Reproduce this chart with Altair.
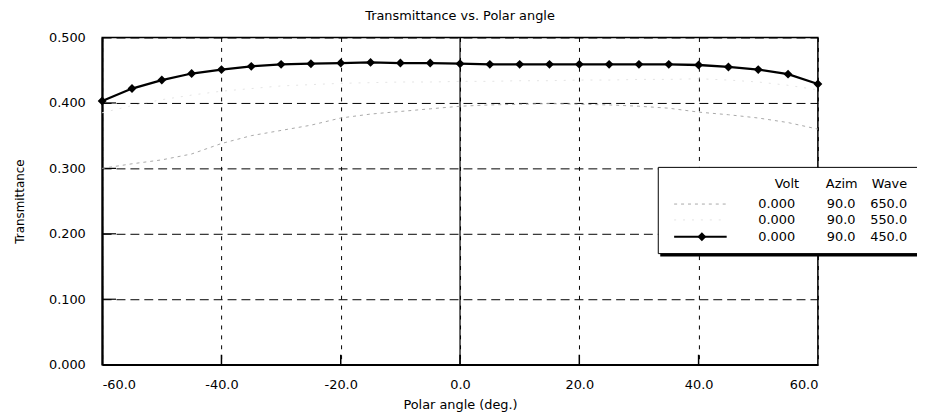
import altair as alt
import pandas as pd

# ---- data ----
angles = [-60, -55, -50, -45, -40, -35, -30, -25, -20, -15, -10, -5, 0,
          5, 10, 15, 20, 25, 30, 35, 40, 45, 50, 55, 60]
t450 = [0.403, 0.422, 0.435, 0.445, 0.451, 0.456, 0.459, 0.460, 0.461, 0.462,
        0.461, 0.461, 0.460, 0.459, 0.459, 0.459, 0.459, 0.459, 0.459, 0.459,
        0.458, 0.455, 0.451, 0.444, 0.429]
t650 = [0.300, 0.307, 0.313, 0.322, 0.338, 0.350, 0.358, 0.366, 0.377, 0.383,
        0.387, 0.391, 0.395, 0.397, 0.398, 0.399, 0.398, 0.397, 0.395, 0.392,
        0.386, 0.382, 0.377, 0.370, 0.360]
t550 = [0.385, 0.396, 0.405, 0.412, 0.418, 0.422, 0.426, 0.428, 0.430, 0.431,
        0.432, 0.432, 0.433, 0.433, 0.434, 0.434, 0.435, 0.435, 0.436, 0.436,
        0.437, 0.435, 0.432, 0.427, 0.420]
x_ticks = [-60, -40, -20, 0, 20, 40, 60]
y_ticks = [0.0, 0.1, 0.2, 0.3, 0.4, 0.5]
legend_header = ["Volt", "Azim", "Wave"]
legend_volt = ["0.000", "0.000", "0.000"]
legend_azim = ["90.0", "90.0", "90.0"]
legend_wave = ["650.0", "550.0", "450.0"]
zero_line = [0.0]

FONT = "DejaVu Sans"
W, H = 722, 330

df = pd.DataFrame({"angle": angles, "t450": t450, "t650": t650, "t550": t550})
one = pd.DataFrame({"d": [0]})

xs = alt.Scale(domain=[-60, 60], nice=False, zero=False)
ys = alt.Scale(domain=[0, 0.5], nice=False)

xaxis = alt.Axis(values=x_ticks, format=".1f", title="Polar angle (deg.)",
                 labelExpr="replace(datum.label, '\u2212', '-')",
                 gridDash=[4, 6], labelPadding=14, titleFontSize=13,
                 titleX=361, titleY=40, titleBaseline="middle")
yaxis = alt.Axis(values=y_ticks, format=".3f", title="Transmittance",
                 gridDash=[9, 5], labelPadding=17, titleFontSize=12,
                 titleX=-83, titleY=165, titleAngle=270, titleBaseline="middle",
                 titleAlign="center", domainWidth=2)

base = alt.Chart(df)

l650 = base.mark_line(color="#a8a8a8", strokeWidth=1, strokeDash=[3, 4]).encode(
    x=alt.X("angle:Q", scale=xs, axis=xaxis),
    y=alt.Y("t650:Q", scale=ys, axis=yaxis),
)
l550 = base.mark_line(color="#e4e4e4", strokeWidth=1, strokeDash=[2, 7]).encode(
    x=alt.X("angle:Q", scale=xs), y=alt.Y("t550:Q", scale=ys))
l450 = base.mark_line(color="black", strokeWidth=2.3).encode(
    x=alt.X("angle:Q", scale=xs), y=alt.Y("t450:Q", scale=ys))
p450 = base.mark_point(shape="diamond", filled=True, color="black", size=80, opacity=1).encode(
    x=alt.X("angle:Q", scale=xs), y=alt.Y("t450:Q", scale=ys))

zero = alt.Chart(pd.DataFrame({"z": zero_line})).mark_rule(color="black", strokeWidth=1.2).encode(
    x=alt.X("z:Q", scale=xs))

inner_x = alt.Chart(pd.DataFrame({"v": x_ticks[1:-1]})).mark_rule(color="black", strokeWidth=1.5).encode(
    x=alt.X("v:Q", scale=xs), y=alt.value(H), y2=alt.value(H - 10))
inner_y = alt.Chart(pd.DataFrame({"v": y_ticks[1:-1]})).mark_rule(color="black", strokeWidth=1.2).encode(
    y=alt.Y("v:Q", scale=ys), x=alt.value(0), x2=alt.value(14))

# ---- legend box ----
lx0, lx1, ly0, ly1 = 561, 840, 131, 218
shadow = alt.Chart(one).mark_rect(color="black").encode(
    x=alt.value(lx0 + 2), x2=alt.value(lx1), y=alt.value(ly0 + 2), y2=alt.value(ly1 + 3))
box = alt.Chart(one).mark_rect(fill="white", stroke="black", strokeWidth=1).encode(
    x=alt.value(lx0), x2=alt.value(lx1), y=alt.value(ly0), y2=alt.value(ly1))

texts = []
col_right = [703, 762, 812]
for txt, xr in zip(legend_header, col_right):
    texts.append(alt.Chart(one).mark_text(align="right", baseline="middle", font=FONT,
                                          fontSize=13, color="black").encode(
        x=alt.value(xr), y=alt.value(148), text=alt.value(txt)))
row_y = [168, 184, 201]
val_right = [699, 760, 812]
for i, yy in enumerate(row_y):
    for vals, xr in zip([legend_volt, legend_azim, legend_wave], val_right):
        texts.append(alt.Chart(one).mark_text(align="right", baseline="middle", font=FONT,
                                              fontSize=13, color="black").encode(
            x=alt.value(xr), y=alt.value(yy), text=alt.value(vals[i])))

sym650 = alt.Chart(one).mark_rule(color="#a8a8a8", strokeWidth=1, strokeDash=[3, 4]).encode(
    x=alt.value(577), x2=alt.value(630), y=alt.value(row_y[0]))
sym550 = alt.Chart(one).mark_rule(color="#e4e4e4", strokeWidth=1, strokeDash=[2, 7]).encode(
    x=alt.value(577), x2=alt.value(630), y=alt.value(row_y[1]))
sym450 = alt.Chart(one).mark_rule(color="black", strokeWidth=2).encode(
    x=alt.value(577), x2=alt.value(630), y=alt.value(row_y[2]))
sym450p = alt.Chart(one).mark_point(shape="diamond", filled=True, color="black", size=80, opacity=1).encode(
    x=alt.value(605), y=alt.value(row_y[2]))

chart = alt.layer(
    zero, inner_x, inner_y, l650, l550, l450, p450,
    shadow, box, *texts, sym650, sym550, sym450, sym450p
).properties(
    width=W, height=H,
    background="white",
    title=alt.Title("Transmittance vs. Polar angle", fontSize=13, fontWeight="normal",
                    font=FONT, anchor="middle", offset=9, color="black"),
    autosize=alt.AutoSizeParams(type="none"),
    padding={"left": 95, "top": 28, "right": 100, "bottom": 48},
).configure_axis(
    labelFont=FONT, labelFontSize=13, labelColor="black",
    titleFont=FONT, titleFontWeight="normal", titleColor="black",
    domainColor="black", domainWidth=1.5, tickSize=0,
    grid=True, gridColor="black", gridOpacity=1, gridWidth=1,
).configure_view(stroke="black", strokeWidth=1.5)

chart.save("out.html", embed_options={"renderer": "svg", "actions": False})
